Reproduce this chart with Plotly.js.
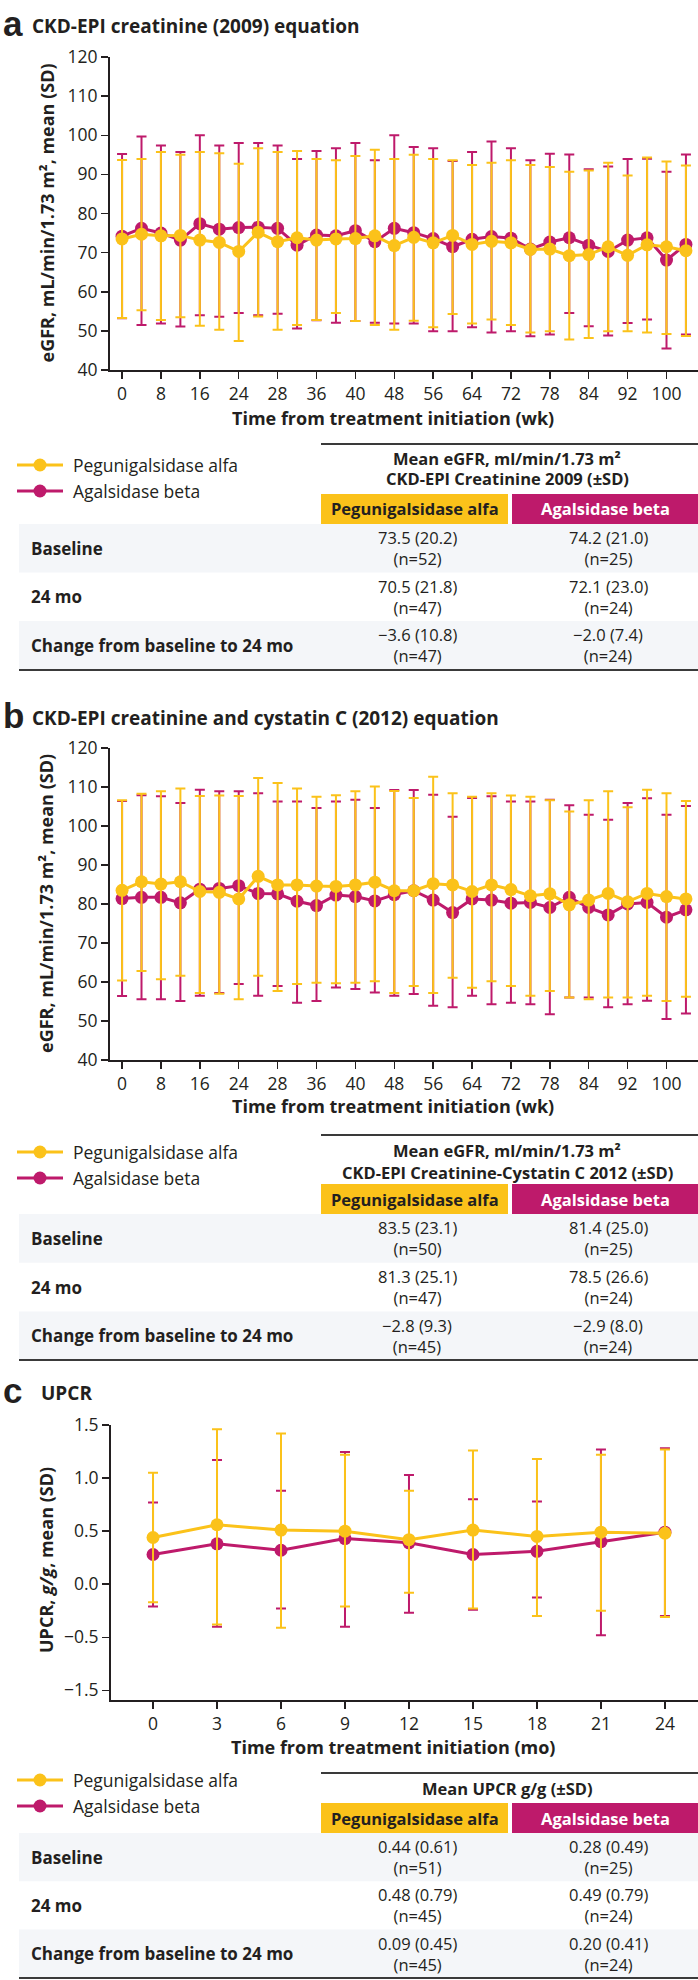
<!DOCTYPE html>
<html>
<head>
<meta charset="utf-8">
<script src="https://cdn.plot.ly/plotly-3.0.1.min.js"></script>
<style>
  html, body { margin: 0; padding: 0; background: #ffffff; }
  #fig { width: 698px; height: 1980px; }
</style>
</head>
<body>
<div id="fig"></div>
<script>
// ---------------- data ----------------
// Panels a and b: one point per study visit; every other visit carries a week label.
const weekTickLabels = ['0', '8', '16', '24', '28', '36', '40', '48', '56', '64', '72', '78', '84', '92', '100'];

// a: CKD-EPI creatinine (2009), mean and mean ± SD per visit
const pegA_mean  = [73.5, 74.7, 74.3, 74.4, 73.2, 72.6, 70.3, 75.2, 72.8, 73.8, 73.2, 73.5, 73.6, 74.3, 71.8, 73.9, 72.5, 74.4, 72.1, 72.9, 72.5, 70.8, 70.9, 69.2, 69.5, 71.5, 69.3, 72.0, 71.5, 70.5];
const pegA_upper = [93.7, 93.9, 95.7, 95.0, 95.7, 95.4, 92.7, 96.7, 95.7, 96.0, 93.9, 93.6, 94.7, 96.3, 93.9, 95.0, 93.9, 93.6, 92.4, 93.0, 93.6, 92.4, 91.9, 90.7, 91.0, 93.0, 89.7, 94.3, 93.3, 92.3];
const pegA_lower = [53.3, 55.3, 52.8, 53.5, 51.3, 50.3, 47.4, 53.7, 50.3, 51.5, 52.8, 54.6, 52.5, 51.5, 50.3, 52.6, 50.9, 54.3, 51.9, 52.9, 51.5, 49.6, 49.9, 47.8, 48.2, 49.9, 49.9, 49.6, 49.2, 48.7];
const agaA_mean  = [74.2, 76.2, 75.0, 73.2, 77.4, 76.0, 76.4, 76.5, 76.2, 71.9, 74.5, 74.3, 75.6, 72.8, 76.2, 75.1, 73.6, 71.5, 73.4, 74.1, 73.7, 70.9, 72.7, 73.8, 71.9, 70.3, 73.2, 73.8, 68.1, 72.1];
const agaA_upper = [95.2, 99.7, 97.4, 95.7, 100.0, 97.4, 98.0, 98.0, 97.4, 93.9, 96.0, 96.7, 98.0, 93.6, 100.0, 97.0, 96.7, 93.4, 95.7, 98.4, 96.7, 93.6, 95.3, 95.1, 91.3, 92.0, 93.9, 94.0, 90.7, 95.1];
const agaA_lower = [53.2, 51.5, 51.9, 51.1, 54.0, 53.6, 54.6, 54.0, 54.4, 50.6, 52.7, 52.1, 52.5, 52.1, 51.9, 51.9, 49.9, 49.9, 50.9, 49.6, 49.9, 48.6, 49.1, 54.6, 51.2, 48.8, 52.0, 52.9, 45.5, 49.1];

// b: CKD-EPI creatinine and cystatin C (2012)
const pegB_mean  = [83.5, 85.7, 85.1, 85.7, 83.2, 83.0, 81.3, 87.1, 84.9, 84.9, 84.6, 84.5, 84.9, 85.6, 83.4, 83.4, 85.2, 84.9, 83.2, 84.9, 83.7, 82.1, 82.6, 79.8, 81.0, 82.7, 80.6, 82.7, 81.9, 81.3];
const pegB_upper = [106.6, 108.3, 108.9, 109.6, 107.7, 107.8, 107.7, 112.3, 111.0, 109.6, 107.5, 107.9, 108.9, 110.1, 109.0, 107.2, 112.6, 108.4, 107.5, 108.4, 107.8, 107.5, 106.6, 103.7, 106.6, 108.9, 104.8, 109.3, 108.4, 106.4];
const pegB_lower = [60.4, 62.8, 60.7, 61.6, 57.2, 57.0, 55.6, 61.6, 57.7, 59.5, 59.8, 59.7, 59.8, 60.2, 57.2, 59.0, 57.2, 61.1, 58.5, 60.2, 59.0, 56.5, 57.7, 56.0, 55.6, 56.0, 56.0, 56.5, 55.1, 56.2];
const agaB_mean  = [81.4, 81.7, 81.7, 80.3, 83.8, 84.0, 84.7, 82.7, 82.6, 80.7, 79.6, 82.3, 81.9, 80.8, 82.4, 83.4, 81.0, 77.8, 81.3, 81.0, 80.2, 80.4, 79.1, 81.7, 79.1, 77.2, 80.0, 80.4, 76.6, 78.5];
const agaB_upper = [106.4, 107.9, 107.6, 105.9, 109.3, 108.9, 108.9, 108.4, 106.3, 106.3, 104.6, 106.3, 106.7, 104.6, 109.2, 109.2, 108.0, 102.4, 107.2, 107.6, 106.3, 106.3, 106.7, 105.3, 102.9, 101.6, 105.9, 107.1, 102.9, 105.1];
const agaB_lower = [56.4, 55.6, 55.6, 55.1, 56.5, 57.2, 59.5, 56.5, 59.0, 54.7, 55.1, 58.6, 58.2, 57.3, 56.5, 56.9, 53.9, 53.5, 56.5, 54.3, 54.7, 54.3, 51.7, 56.0, 56.0, 53.5, 54.3, 55.2, 50.5, 51.9];

// c: UPCR by month
const monthsC    = [0, 3, 6, 9, 12, 15, 18, 21, 24];
const pegC_mean  = [0.44, 0.56, 0.51, 0.50, 0.42, 0.51, 0.45, 0.49, 0.48];
const pegC_upper = [1.05, 1.46, 1.42, 1.22, 0.88, 1.26, 1.18, 1.22, 1.27];
const pegC_lower = [-0.17, -0.38, -0.41, -0.21, -0.08, -0.23, -0.30, -0.25, -0.31];
const agaC_mean  = [0.28, 0.38, 0.32, 0.43, 0.39, 0.28, 0.31, 0.40, 0.49];
const agaC_upper = [0.77, 1.17, 0.88, 1.245, 1.03, 0.80, 0.78, 1.27, 1.28];
const agaC_lower = [-0.21, -0.40, -0.23, -0.40, -0.27, -0.24, -0.125, -0.48, -0.30];
const upcrTickVals   = [1.5, 1.0, 0.5, 0.0, -0.5, -1.0];
const upcrTickLabels = ['1.5', '1.0', '0.5', '0.0', '\u22120.5', '\u22121.5'];

// summary tables: baseline, 24 mo, change
const rowLabels = ['Baseline', '24 mo', 'Change from baseline to 24 mo'];
const tabA_peg_mean = [73.5, 70.5, -3.6], tabA_peg_sd = [20.2, 21.8, 10.8], tabA_peg_n = [52, 47, 47];
const tabA_aga_mean = [74.2, 72.1, -2.0], tabA_aga_sd = [21.0, 23.0, 7.4],  tabA_aga_n = [25, 24, 24];
const tabB_peg_mean = [83.5, 81.3, -2.8], tabB_peg_sd = [23.1, 25.1, 9.3],  tabB_peg_n = [50, 47, 45];
const tabB_aga_mean = [81.4, 78.5, -2.9], tabB_aga_sd = [25.0, 26.6, 8.0],  tabB_aga_n = [25, 24, 24];
const tabC_peg_mean = [0.44, 0.48, 0.09], tabC_peg_sd = [0.61, 0.79, 0.45], tabC_peg_n = [51, 45, 45];
const tabC_aga_mean = [0.28, 0.49, 0.20], tabC_aga_sd = [0.49, 0.79, 0.41], tabC_aga_n = [25, 24, 24];

const seriesNames = ['Pegunigalsidase alfa', 'Agalsidase beta'];

// ---------------- styling ----------------
const W = 698, H = 1980;
const PEG = '#FBC21A', AGA = '#BE1A6B';
const INK = '#231f20';
const SHADE = '#F4F6F9';
const FONT = '"Open Sans", Roboto, sans-serif';
const px = x => x / W;
const py = y => 1 - y / H;

const visitIdx = pegA_mean.map((_, i) => i);
const weekTickVals = weekTickLabels.map((_, i) => 2 * i);

function seriesTrace(x, mean, upper, lower, color, xa, ya) {
  return {
    type: 'scatter', mode: 'lines+markers', x: x, y: mean, xaxis: xa, yaxis: ya,
    showlegend: false, hoverinfo: 'skip',
    line: { color: color, width: 3 },
    marker: { color: color, size: 13 },
    error_y: {
      type: 'data', symmetric: false,
      array: upper.map((u, i) => u - mean[i]),
      arrayminus: lower.map((l, i) => mean[i] - l),
      color: color, thickness: 2, width: 5
    }
  };
}

const data = [
  seriesTrace(visitIdx, agaA_mean, agaA_upper, agaA_lower, AGA, 'x', 'y'),
  seriesTrace(visitIdx, pegA_mean, pegA_upper, pegA_lower, PEG, 'x', 'y'),
  seriesTrace(visitIdx, agaB_mean, agaB_upper, agaB_lower, AGA, 'x2', 'y2'),
  seriesTrace(visitIdx, pegB_mean, pegB_upper, pegB_lower, PEG, 'x2', 'y2'),
  seriesTrace(monthsC, agaC_mean, agaC_upper, agaC_lower, AGA, 'x3', 'y3'),
  seriesTrace(monthsC, pegC_mean, pegC_upper, pegC_lower, PEG, 'x3', 'y3')
];

const axisCommon = {
  showgrid: false, zeroline: false, showline: true, linewidth: 2, linecolor: INK,
  ticks: 'outside', ticklen: 7, tickwidth: 1.5, tickcolor: INK,
  tickfont: { family: FONT, size: 17.5, color: INK }, fixedrange: true
};

const layout = {
  width: W, height: H,
  margin: { l: 0, r: 0, t: 0, b: 0, pad: 0 },
  paper_bgcolor: '#ffffff', plot_bgcolor: '#ffffff',
  font: { family: FONT, color: INK },
  xaxis:  Object.assign({}, axisCommon, { domain: [px(110), 1], range: [-0.62, 29.62], tickvals: weekTickVals, ticktext: weekTickLabels, anchor: 'y' }),
  yaxis:  Object.assign({}, axisCommon, { domain: [py(370), py(57)], range: [40, 120], dtick: 10, anchor: 'x' }),
  xaxis2: Object.assign({}, axisCommon, { domain: [px(110), 1], range: [-0.62, 29.62], tickvals: weekTickVals, ticktext: weekTickLabels, anchor: 'y2' }),
  yaxis2: Object.assign({}, axisCommon, { domain: [py(1060), py(748)], range: [40, 120], dtick: 10, anchor: 'x2' }),
  xaxis3: Object.assign({}, axisCommon, { domain: [px(111), 1], range: [-1.97, 25.55], tickvals: monthsC, anchor: 'y3' }),
  yaxis3: Object.assign({}, axisCommon, { domain: [py(1700), py(1425)], range: [-1.091, 1.5], tickvals: upcrTickVals, ticktext: upcrTickLabels, anchor: 'x3' }),
  shapes: [],
  annotations: []
};

function text(str, x, y, opts) {
  layout.annotations.push(Object.assign({
    text: str, xref: 'paper', yref: 'paper', x: px(x), y: py(y),
    xanchor: 'left', yanchor: 'middle', showarrow: false,
    font: { family: FONT, size: 17, color: INK }
  }, opts || {}));
}

function panelHeading(letter, title, y, titleX) {
  text('<b>' + letter + '</b>', 1, y - 3, { font: { family: '"Liberation Sans", Arial, sans-serif', size: 35, color: INK } });
  text('<b>' + title + '</b>', titleX, y, { font: { family: FONT, size: 19, color: INK } });
}

function axisTitles(xTitle, xTitleY, yTitle, yTitleY) {
  text('<b>' + xTitle + '</b>', 393, xTitleY, { xanchor: 'center', font: { family: FONT, size: 18, color: INK } });
  text('<b>' + yTitle + '</b>', 46, yTitleY, { xanchor: 'center', textangle: -90, font: { family: FONT, size: 18, color: INK } });
}

function legendBlock(yPeg, yAga) {
  [[yPeg, PEG, seriesNames[0]], [yAga, AGA, seriesNames[1]]].forEach(([y, c, name]) => {
    layout.shapes.push({ type: 'line', xref: 'paper', yref: 'paper', x0: px(17), x1: px(63), y0: py(y), y1: py(y), line: { color: c, width: 3 } });
    layout.shapes.push({ type: 'circle', xref: 'paper', yref: 'paper', x0: px(40 - 6.5), x1: px(40 + 6.5), y0: py(y + 6.5), y1: py(y - 6.5), fillcolor: c, line: { width: 0 } });
    text(name, 71, y, { font: { family: FONT, size: 17.5, color: INK } });
  });
}

function fmt(v, d) {
  const s = Math.abs(v).toFixed(d);
  return (v < 0 ? '\u2212' : '') + s;
}

function summaryTable(cfg) {
  const { top, headerLines, headerYs, boxTop, boxBot, rowTop, rowH, bottom, digits, peg, aga } = cfg;
  const line = (x0, x1, y) => layout.shapes.push({ type: 'line', xref: 'paper', yref: 'paper', x0: px(x0), x1: px(x1), y0: py(y), y1: py(y), line: { color: '#3a3a3a', width: 2 } });
  line(321, 698, top);
  headerLines.forEach((h, i) => text('<b>' + h + '</b>', 507, headerYs[i], { xanchor: 'center', font: { family: FONT, size: 16.5, color: INK } }));
  layout.shapes.push({ type: 'rect', xref: 'paper', yref: 'paper', x0: px(321), x1: px(508), y0: py(boxBot), y1: py(boxTop), fillcolor: PEG, line: { width: 0 }, layer: 'below' });
  layout.shapes.push({ type: 'rect', xref: 'paper', yref: 'paper', x0: px(512), x1: px(698), y0: py(boxBot), y1: py(boxTop), fillcolor: AGA, line: { width: 0 }, layer: 'below' });
  const boxMid = (boxTop + boxBot) / 2;
  text('<b>' + seriesNames[0] + '</b>', 414.5, boxMid, { xanchor: 'center', font: { family: FONT, size: 16.5, color: INK } });
  text('<b>' + seriesNames[1] + '</b>', 605, boxMid, { xanchor: 'center', font: { family: FONT, size: 16.5, color: '#ffffff' } });
  rowLabels.forEach((lab, r) => {
    const y0 = rowTop + r * rowH, y1 = y0 + rowH, mid = (y0 + y1) / 2;
    if (r !== 1) {
      layout.shapes.push({ type: 'rect', xref: 'paper', yref: 'paper', x0: px(19), x1: 1, y0: py(y1), y1: py(y0), fillcolor: SHADE, line: { width: 0 }, layer: 'below' });
    }
    text('<b>' + lab + '</b>', 29, mid, { font: { family: FONT, size: 17, color: INK } });
    text(fmt(peg.mean[r], digits) + ' (' + peg.sd[r].toFixed(digits) + ')<br>(n=' + peg.n[r] + ')', 417, mid,
      { xanchor: 'center', align: 'center', font: { family: FONT, size: 16.5, color: INK } });
    text(fmt(aga.mean[r], digits) + ' (' + aga.sd[r].toFixed(digits) + ')<br>(n=' + aga.n[r] + ')', 608, mid,
      { xanchor: 'center', align: 'center', font: { family: FONT, size: 16.5, color: INK } });
  });
  line(19, 698, bottom);
}

// ---- panel a ----
panelHeading('a', 'CKD-EPI creatinine (2009) equation', 26, 30);
axisTitles('Time from treatment initiation (wk)', 418, 'eGFR, mL/min/1.73 m\u00b2, mean (SD)', 213.5);
legendBlock(465, 491);
summaryTable({
  top: 444, headerLines: ['Mean eGFR, ml/min/1.73 m\u00b2', 'CKD-EPI Creatinine 2009 (\u00b1SD)'], headerYs: [458, 479],
  boxTop: 494, boxBot: 524, rowTop: 524, rowH: 48.5, bottom: 670, digits: 1,
  peg: { mean: tabA_peg_mean, sd: tabA_peg_sd, n: tabA_peg_n },
  aga: { mean: tabA_aga_mean, sd: tabA_aga_sd, n: tabA_aga_n }
});

// ---- panel b ----
panelHeading('b', 'CKD-EPI creatinine and cystatin C (2012) equation', 718, 30);
axisTitles('Time from treatment initiation (wk)', 1106, 'eGFR, mL/min/1.73 m\u00b2, mean (SD)', 904);
legendBlock(1152, 1178);
summaryTable({
  top: 1135, headerLines: ['Mean eGFR, ml/min/1.73 m\u00b2', 'CKD-EPI Creatinine-Cystatin C 2012 (\u00b1SD)'], headerYs: [1150, 1172],
  boxTop: 1184, boxBot: 1214, rowTop: 1214, rowH: 48.7, bottom: 1360, digits: 1,
  peg: { mean: tabB_peg_mean, sd: tabB_peg_sd, n: tabB_peg_n },
  aga: { mean: tabB_aga_mean, sd: tabB_aga_sd, n: tabB_aga_n }
});

// ---- panel c ----
panelHeading('c', 'UPCR', 1393, 39);
axisTitles('Time from treatment initiation (mo)', 1747, 'UPCR, <i>g/g</i>, mean (SD)', 1560);
legendBlock(1780, 1806);
summaryTable({
  top: 1773, headerLines: ['Mean UPCR g/g (\u00b1SD)'], headerYs: [1788],
  boxTop: 1803, boxBot: 1833, rowTop: 1833, rowH: 48.3, bottom: 1978, digits: 2,
  peg: { mean: tabC_peg_mean, sd: tabC_peg_sd, n: tabC_peg_n },
  aga: { mean: tabC_aga_mean, sd: tabC_aga_sd, n: tabC_aga_n }
});

Plotly.newPlot('fig', data, layout, { staticPlot: true, displayModeBar: false });
</script>
</body>
</html>
